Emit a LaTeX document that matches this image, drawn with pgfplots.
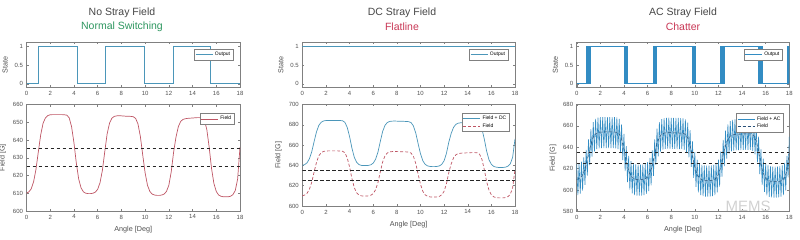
\documentclass[border=0pt]{standalone}
\usepackage{pgfplots}
\pgfplotsset{compat=1.18}
\usepackage{pgfplotstable}
\usepackage{fontspec}
\setmainfont{Liberation Sans}
\definecolor{axgray}{RGB}{128,128,128}
\definecolor{tickgray}{RGB}{80,80,80}
\definecolor{titlegray}{RGB}{70,70,70}
\definecolor{titlegreen}{RGB}{45,150,95}
\definecolor{titlered}{RGB}{200,55,85}
\definecolor{outblue}{RGB}{75,150,185}
\definecolor{acblue}{RGB}{50,140,195}
\definecolor{fieldred}{RGB}{190,85,100}
\definecolor{fieldnavy}{RGB}{40,80,120}

\pgfplotstableread{
x f dc
0.0 610 640
0.2 610.8 640.8
0.4 612.5 642.5
0.6 616.5 646.5
0.8 623.5 653.5
1.0 633.5 663.5
1.2 643 673
1.4 649.5 679.5
1.6 652.5 682.5
1.8 653.8 683.8
2.0 654.2 684.2
2.2 654.3 684.3
2.4 654.3 684.3
2.6 654.3 684.3
2.8 654.3 684.3
3.0 654.3 684.3
3.2 654.2 684.2
3.4 654 684
3.6 652.5 682.5
3.8 647.5 677.5
4.0 638.5 668.5
4.2 627 657
4.4 618 648
4.6 613 643
4.8 610.8 640.8
5.0 610 640
5.2 609.8 639.8
5.4 609.8 639.8
5.6 610 640
5.8 610.6 640.6
6.0 612.2 642.2
6.2 616 646
6.4 623 653
6.6 633.5 663.5
6.8 643.5 673.5
7.0 649.5 679.5
7.2 652.3 682.3
7.4 653.3 683.3
7.6 653.6 683.6
7.8 653.7 683.7
8.0 653.6 683.6
8.2 653.5 683.5
8.4 653.4 683.4
8.6 653.4 683.4
8.8 653.3 683.3
9.0 653.1 683.1
9.2 652.2 682.2
9.4 649 679
9.6 642 672
9.8 631.5 661.5
10.0 621.5 651.5
10.2 614.5 644.5
10.4 611 641
10.6 609.5 639.5
10.8 609 639
11.0 608.8 638.8
11.2 608.8 638.8
11.4 609 639
11.6 609.5 639.5
11.8 611 641
12.0 614.5 644.5
12.2 622 652
12.4 633 663
12.6 641.5 671.5
12.8 647.5 677.5
13.0 650.5 680.5
13.2 651.6 681.6
13.4 652 682
13.6 652.2 682.2
13.8 652.3 682.3
14.0 652.4 682.4
14.2 652.5 682.5
14.4 652.6 682.6
14.6 652.6 682.6
14.8 652.4 682.4
15.0 651 681
15.2 646 676
15.4 636 666
15.6 624 654
15.8 615.5 645.5
16.0 611 641
16.2 609 639
16.4 608.3 638.3
16.6 608 638
16.8 608 638
17.0 608 638
17.2 608.3 638.3
17.4 609.2 639.2
17.6 611.5 641.5
17.8 618 648
18.0 636 666
}\fielddata

\pgfplotstableread{
x y
0.0 624
0.1 595.4
0.2 624.8
0.3 596.7
0.4 626.5
0.5 599.5
0.6 630.5
0.7 605
0.8 637.5
0.9 613.5
1.0 647.5
1.1 623.3
1.2 657
1.3 631.3
1.4 663.5
1.5 636
1.6 666.5
1.7 638.2
1.8 667.8
1.9 639
2.0 668.2
2.1 639.3
2.2 668.3
2.3 639.3
2.4 668.3
2.5 639.3
2.6 668.3
2.7 639.3
2.8 668.3
2.9 639.3
3.0 668.3
3.1 639.3
3.2 668.2
3.3 639.1
3.4 668
3.5 638.3
3.6 666.5
3.7 635
3.8 661.5
3.9 628
4.0 652.5
4.1 617.8
4.2 641
4.3 607.5
4.4 632
4.5 600.5
4.6 627
4.7 596.9
4.8 624.8
4.9 595.4
5.0 624
5.1 594.9
5.2 623.8
5.3 594.8
5.4 623.8
5.5 594.9
5.6 624
5.7 595.3
5.8 624.6
5.9 596.4
6.0 626.2
6.1 599.1
6.2 630
6.3 604.5
6.4 637
6.5 613.3
6.6 647.5
6.7 623.5
6.8 657.5
6.9 631.5
7.0 663.5
7.1 635.9
7.2 666.3
7.3 637.8
7.4 667.3
7.5 638.5
7.6 667.6
7.7 638.7
7.8 667.7
7.9 638.7
8.0 667.6
8.1 638.6
8.2 667.5
8.3 638.5
8.4 667.4
8.5 638.4
8.6 667.4
8.7 638.4
8.8 667.3
8.9 638.2
9.0 667.1
9.1 637.7
9.2 666.2
9.3 635.6
9.4 663
9.5 630.5
9.6 656
9.7 621.8
9.8 645.5
9.9 611.5
10.0 635.5
10.1 603
10.2 628.5
10.3 597.8
10.4 625
10.5 595.3
10.6 623.5
10.7 594.3
10.8 623
10.9 593.9
11.0 622.8
11.1 593.8
11.2 622.8
11.3 593.9
11.4 623
11.5 594.3
11.6 623.5
11.7 595.3
11.8 625
11.9 597.8
12.0 628.5
12.1 603.3
12.2 636
12.3 612.5
12.4 647
12.5 622.3
12.6 655.5
12.7 629.5
12.8 661.5
12.9 634
13.0 664.5
13.1 636.1
13.2 665.6
13.3 636.8
13.4 666
13.5 637.1
13.6 666.2
13.7 637.3
13.8 666.3
13.9 637.4
14.0 666.4
14.1 637.5
14.2 666.5
14.3 637.6
14.4 666.6
14.5 637.6
14.6 666.6
14.7 637.5
14.8 666.4
14.9 636.7
15.0 665
15.1 633.5
15.2 660
15.3 626
15.4 650
15.5 615
15.6 638
15.7 604.8
15.8 629.5
15.9 598.3
16.0 625
16.1 595
16.2 623
16.3 593.7
16.4 622.3
16.5 593.2
16.6 622
16.7 593
16.8 622
16.9 593
17.0 622
17.1 593.2
17.2 622.3
17.3 593.8
17.4 623.2
17.5 595.4
17.6 625.5
17.7 599.8
17.8 632
17.9 612
18.0 650
}\acdata

\pgfplotsset{
  mstyle/.style={
    scale only axis, xmin=0, xmax=18, xtick={0,2,...,18},
    tick align=inside,
    axis line style={draw=axgray, line width=0.5pt},
    tick style={draw=axgray, line width=0.4pt},
    major tick length=2pt,
    tick label style={font=\fontsize{6}{6.5}\selectfont, text=tickgray},
    label style={font=\fontsize{7.2}{8}\selectfont, text=tickgray},
    /pgf/number format/assume math mode=true,
    xticklabel style={yshift=-0.3pt},
    legend cell align=left,
    legend style={font=\fontsize{5}{5.2}\selectfont, draw=axgray, line width=0.4pt,
      inner sep=0.8pt, row sep=-1.5pt, fill=white},
    every axis plot/.append style={line width=0.7pt},
  },
  topst/.style={mstyle, height=45pt, ymin=-0.1, ymax=1.1, ytick={0,0.5,1},
    ylabel={State},
    legend style={at={(0.967,0.85)}, anchor=north east}},
  botst/.style={mstyle, xlabel={Angle [Deg]}, ylabel={Field [G]},
    legend style={at={(0.973,0.917)}, anchor=north east}},
  thr/.style={black!85, dashed, line width=0.9pt, dash pattern=on 3.5pt off 2.5pt, forget plot},
}

\begin{document}
\begin{tikzpicture}
\path[use as bounding box] (0,0) rectangle (800pt,240pt);

% titles
\node[font=\fontsize{10.5}{11}\selectfont, text=titlegray] at (122pt,227pt) {No Stray Field};
\node[font=\fontsize{10.5}{11}\selectfont, text=titlegreen] at (122pt,213.3pt) {Normal Switching};
\node[font=\fontsize{10.5}{11}\selectfont, text=titlegray] at (402pt,227pt) {DC Stray Field};
\node[font=\fontsize{10.5}{11}\selectfont, text=titlered] at (402pt,213.3pt) {Flatline};
\node[font=\fontsize{10.5}{11}\selectfont, text=titlegray] at (683pt,227pt) {AC Stray Field};
\node[font=\fontsize{10.5}{11}\selectfont, text=titlered] at (683pt,213.3pt) {Chatter};

% ---------- Panel 1 ----------
\begin{axis}[topst, at={(26.5pt,152.5pt)}, anchor=south west, width=213.5pt]
\addplot[outblue, const plot mark left] coordinates {(0,0) (1.0,1) (4.25,0) (6.65,1) (9.91,0) (12.37,1) (15.52,0) (18,0)};
\addlegendentry{Output}
\end{axis}
\begin{axis}[botst, at={(26.5pt,29pt)}, anchor=south west, width=213.5pt, height=106.5pt,
  ymin=600, ymax=660, ytick={600,610,...,660}]
\addplot[fieldred] table[x=x, y=f] {\fielddata};
\addlegendentry{Field}
\addplot[thr] coordinates {(0,625) (18,625)};
\addplot[thr] coordinates {(0,635) (18,635)};
\end{axis}

% ---------- Panel 2 ----------
\begin{axis}[topst, at={(302.3pt,152.5pt)}, anchor=south west, width=212.7pt]
\addplot[outblue] coordinates {(0,1) (18,1)};
\addlegendentry{Output}
\end{axis}
\begin{axis}[botst, at={(302.3pt,34pt)}, anchor=south west, width=212.7pt, height=101.5pt,
  ymin=600, ymax=700, ytick={600,620,...,700}]
\addplot[outblue] table[x=x, y=dc] {\fielddata};
\addlegendentry{Field + DC}
\addplot[fieldred, dashed, dash pattern=on 3pt off 2pt] table[x=x, y=f] {\fielddata};
\addlegendentry{Field}
\addplot[thr] coordinates {(0,625) (18,625)};
\addplot[thr] coordinates {(0,635) (18,635)};
\end{axis}

% ---------- Panel 3 ----------
\begin{axis}[topst, at={(576.7pt,152.5pt)}, anchor=south west, width=212.6pt]
\addplot[acblue, const plot mark left] coordinates {
(0,0) (0.85,1) (0.885,0) (0.92,1) (0.955,0) (0.99,1) (1.025,0) (1.06,1) (1.095,0) (1.13,1)
(4.03,0) (4.065,1) (4.1,0) (4.135,1) (4.17,0) (4.205,1) (4.24,0) (4.275,1) (4.31,0)
(6.49,1) (6.525,0) (6.56,1) (6.595,0) (6.63,1) (6.665,0) (6.7,1) (6.735,0) (6.77,1)
(9.79,0) (9.825,1) (9.86,0) (9.895,1) (9.93,0) (9.965,1) (10.0,0) (10.035,1) (10.07,0)
(12.19,1) (12.225,0) (12.26,1) (12.295,0) (12.33,1) (12.365,0) (12.4,1) (12.435,0) (12.47,1) (12.505,0) (12.53,1)
(15.41,0) (15.445,1) (15.48,0) (15.515,1) (15.55,0) (15.585,1) (15.62,0) (15.655,1) (15.69,0) (15.725,1) (15.75,0)
(17.83,1) (17.865,0) (17.9,1) (17.935,0) (17.97,1) (18,1)};
\addlegendentry{Output}
\end{axis}
\begin{axis}[botst, at={(576.7pt,28.5pt)}, anchor=south west, width=212.6pt, height=107pt,
  ymin=580, ymax=680, ytick={580,600,...,680}]
\addplot[acblue, line width=0.6pt] table[x=x, y=y] {\acdata};
\addlegendentry{Field + AC}
\addplot[fieldnavy, dashed, dash pattern=on 3pt off 2pt, line width=0.5pt] table[x=x, y=f] {\fielddata};
\addlegendentry{Field}
\addplot[thr] coordinates {(0,625) (18,625)};
\addplot[thr] coordinates {(0,635) (18,635)};
\end{axis}

\node[font=\fontsize{15}{15}\selectfont, text=black!18, inner sep=0pt, anchor=base] at (748pt,28pt) {MEMS};
\end{tikzpicture}
\end{document}
